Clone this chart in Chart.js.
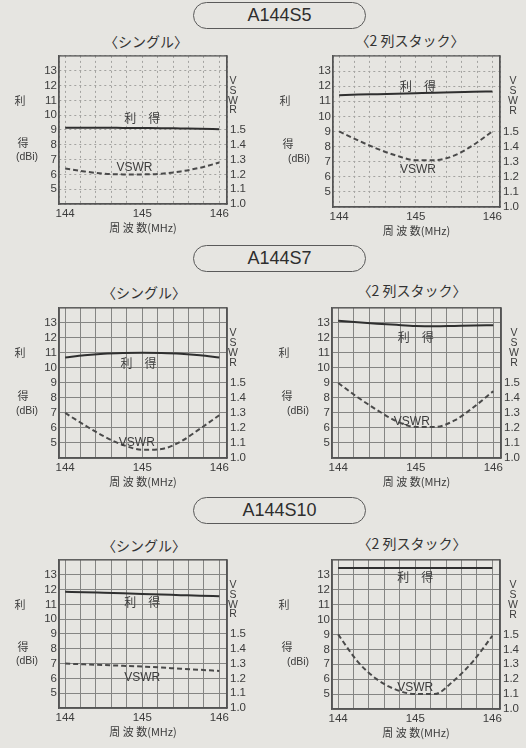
<!DOCTYPE html>
<html>
<head>
<meta charset="utf-8">
<script src="https://cdn.jsdelivr.net/npm/chart.js@4.4.1/dist/chart.umd.min.js"></script>
<style>
  body { margin: 0; background: #e6e5e1; }
  #page { position: relative; width: 526px; height: 748px; overflow: hidden; }
  .pill {
    position: absolute; left: 193px; width: 173px; height: 27px; box-sizing: border-box;
    border: 1.5px solid #5a5a5a; border-radius: 14px;
    font: 18px "Liberation Sans", Arial, sans-serif; color: #2e2e2e;
    text-align: center; line-height: 24px;
  }
  .sub {
    position: absolute; transform: translate(-50%, -50%); white-space: nowrap;
    font: 14px "Noto Sans CJK JP", sans-serif; color: #333;
  }
  canvas { position: absolute; }
</style>
</head>
<body>
<div id="page">
  <div class="pill" style="top:2px">A144S5</div>
  <div class="pill" style="top:245px">A144S7</div>
  <div class="pill" style="top:497px">A144S10</div>

  <div class="sub" style="left:146px;top:41px">〈シングル〉</div>
  <div class="sub" style="left:410px;top:40px">〈2 列スタック〉</div>
  <div class="sub" style="left:144px;top:292px">〈シングル〉</div>
  <div class="sub" style="left:412px;top:290px">〈2 列スタック〉</div>
  <div class="sub" style="left:144px;top:545px">〈シングル〉</div>
  <div class="sub" style="left:412px;top:543px">〈2 列スタック〉</div>

  <canvas id="c1"></canvas>
  <canvas id="c2"></canvas>
  <canvas id="c3"></canvas>
  <canvas id="c4"></canvas>
  <canvas id="c5"></canvas>
  <canvas id="c6"></canvas>
</div>

<script>
// frequency points (MHz) the curves were read at
const freq = [144, 144.25, 144.5, 144.75, 145, 145.25, 145.5, 145.75, 146];
const freqGrid = [144, 144.2, 144.4, 144.6, 144.8, 145, 145.2, 145.4, 145.6, 145.8, 146];
const freqLabels = [144, 145, 146];
const gainTicks = [5, 6, 7, 8, 9, 10, 11, 12, 13];
const vswrTicks = [1.0, 1.1, 1.2, 1.3, 1.4, 1.5];

// A144S5
const s5SingleGain = [9.15, 9.15, 9.15, 9.14, 9.13, 9.12, 9.1, 9.08, 9.05];
const s5SingleVswr = [1.24, 1.22, 1.205, 1.2, 1.2, 1.205, 1.22, 1.245, 1.28];
const s5StackGain = [11.4, 11.44, 11.47, 11.5, 11.53, 11.56, 11.6, 11.62, 11.65];
const s5StackVswr = [1.5, 1.44, 1.385, 1.34, 1.31, 1.31, 1.34, 1.41, 1.5];
// A144S7
const s7SingleGain = [10.7, 10.85, 10.95, 11.0, 11.02, 11.0, 10.95, 10.85, 10.7];
const s7SingleVswr = [1.3, 1.22, 1.145, 1.087, 1.055, 1.06, 1.11, 1.195, 1.285];
const s7StackGain = [13.15, 13.05, 12.95, 12.87, 12.8, 12.78, 12.8, 12.82, 12.85];
const s7StackVswr = [1.5, 1.405, 1.32, 1.245, 1.207, 1.207, 1.25, 1.34, 1.445];
// A144S10
const s10SingleGain = [11.85, 11.82, 11.78, 11.74, 11.7, 11.66, 11.62, 11.58, 11.55];
const s10SingleVswr = [1.3, 1.295, 1.29, 1.285, 1.28, 1.273, 1.265, 1.258, 1.25];
const s10StackGain = [13.45, 13.45, 13.45, 13.45, 13.45, 13.45, 13.45, 13.45, 13.45];
const s10StackVswr = [1.5, 1.32, 1.2, 1.13, 1.1, 1.1, 1.19, 1.32, 1.49];

const INK = '#2f2f2f';
const TXT = '#3c3c3c';
const FRAME = '#555';
const JP = '"Noto Sans CJK JP", sans-serif';
const tickFont = { family: '"Liberation Sans", Arial, sans-serif', size: 11.5 };

// solid outer frame of each plot
const frame = {
  id: 'frame',
  beforeDatasetsDraw(chart) {
    const { ctx, chartArea: a } = chart;
    ctx.save();
    ctx.strokeStyle = FRAME;
    ctx.lineWidth = 1.3;
    ctx.strokeRect(a.left, a.top, a.right - a.left, a.bottom - a.top);
    ctx.restore();
  }
};

// text round the plot: side labels, VSWR letters, in-plot names, x title
const pageText = {
  id: 'pageText',
  afterDraw(chart, args, o) {
    const { ctx, chartArea: a, scales: { x, y } } = chart;
    ctx.save();
    ctx.fillStyle = TXT;
    ctx.textAlign = 'center';
    ctx.textBaseline = 'middle';
    ctx.font = '11px ' + JP;
    ctx.fillText('利', a.left - o.side[0], y.getPixelForValue(11));
    ctx.fillText('得', a.left - o.side[1], y.getPixelForValue(8.15));
    ctx.font = '10.5px "Liberation Sans", Arial, sans-serif';
    ctx.fillText('(dBi)', a.left - o.side[2], y.getPixelForValue(7.15));
    ['V', 'S', 'W', 'R'].forEach((c, i) => {
      ctx.fillText(c, a.right + o.side[3], y.getPixelForValue(12.3 - i * 0.66));
    });
    ctx.font = '12px ' + JP;
    ctx.fillText('利　得', x.getPixelForValue(o.gainAt[0]), y.getPixelForValue(o.gainAt[1]));
    ctx.font = '12px "Liberation Sans", Arial, sans-serif';
    ctx.fillText('VSWR', x.getPixelForValue(o.vswrAt[0]), y.getPixelForValue(o.vswrAt[1]));
    ctx.font = '11px ' + JP;
    ctx.fillText('周 波 数(MHz)', (a.left + a.right) / 2, a.bottom + 24);
    ctx.restore();
  }
};

function makeChart(id, gain, vswr, box, look) {
  const cv = document.getElementById(id);
  cv.width = box.w; cv.height = box.h;
  cv.style.left = box.l + 'px'; cv.style.top = box.t + 'px';
  cv.style.width = box.w + 'px'; cv.style.height = box.h + 'px';

  // the top row is printed with a faint dotted mesh, the others with solid lines
  const gridCol = look.dotted ? '#a3a3a0' : '#858583';
  const dash = look.dotted ? [2, 3] : [];

  new Chart(cv, {
    type: 'line',
    data: {
      datasets: [
        {
          data: freq.map((f, i) => ({ x: f, y: gain[i] })),
          yAxisID: 'y',
          borderColor: INK, borderWidth: 2, pointRadius: 0,
          cubicInterpolationMode: 'monotone'
        },
        {
          data: freq.map((f, i) => ({ x: f, y: vswr[i] })),
          yAxisID: 'y2',
          borderColor: '#4a4a4a', borderWidth: 2, borderDash: [5, 3], pointRadius: 0,
          cubicInterpolationMode: 'monotone'
        }
      ]
    },
    options: {
      responsive: false,
      animation: false,
      events: [],
      layout: { padding: { top: box.pt, left: 0, right: 0, bottom: 0 } },
      plugins: {
        legend: { display: false },
        tooltip: { enabled: false },
        pageText: look.text
      },
      scales: {
        x: {
          type: 'linear', min: 143.92, max: 146.1,
          afterBuildTicks: s => { s.ticks = [143.92, ...freqGrid, 146.1].map(v => ({ value: v })); },
          afterFit: s => { s.height = box.xh; },
          ticks: {
            autoSkip: false, maxRotation: 0, padding: 3, color: TXT, font: tickFont,
            callback: v => freqLabels.includes(v) ? String(v) : ''
          },
          grid: { drawTicks: false, color: gridCol, lineWidth: 1 },
          border: { display: true, color: FRAME, width: 1.3, dash: dash }
        },
        y: {
          position: 'left', min: 4, max: 14,
          afterBuildTicks: s => { s.ticks = [4, ...gainTicks, 14].map(v => ({ value: v })); },
          afterFit: s => { s.width = box.yl; },
          ticks: {
            autoSkip: false, padding: 2, color: TXT, font: tickFont,
            callback: v => gainTicks.includes(v) ? String(v) : ''
          },
          grid: { drawTicks: false, color: gridCol, lineWidth: 1 },
          border: { display: true, color: FRAME, width: 1.3, dash: dash }
        },
        y2: {
          position: 'right', min: 1.0, max: 2.0,
          afterBuildTicks: s => { s.ticks = vswrTicks.map(v => ({ value: v })); },
          afterFit: s => { s.width = box.yr; },
          ticks: {
            autoSkip: false, padding: 3, color: TXT, font: tickFont,
            callback: v => v.toFixed(1)
          },
          grid: { display: false, drawTicks: false },
          border: { display: true, color: FRAME, width: 1.3 }
        }
      }
    },
    plugins: [frame, pageText]
  });
}

// canvas boxes: page position, size and the plot frame inside them
function box(l, t, w, h, plot) {
  return { l, t, w, h, pt: plot[1] - t, yl: plot[0] - l, yr: l + w - plot[2], xh: t + h - plot[3] };
}
const leftSide = [39, 36, 32, 6];
const rightSide = [48, 45, 34, 13];

makeChart('c1', s5SingleGain, s5SingleVswr, box(0, 46, 263, 194, [59, 54, 227, 204]),
  { dotted: true, text: { side: leftSide, gainAt: [145.0, 9.8], vswrAt: [144.9, 6.45] } });
makeChart('c2', s5StackGain, s5StackVswr, box(263, 46, 263, 194, [333, 55, 500, 207]),
  { dotted: true, text: { side: rightSide, gainAt: [145.03, 12.0], vswrAt: [145.03, 6.45] } });
makeChart('c3', s7SingleGain, s7SingleVswr, box(0, 298, 263, 192, [59, 306, 227, 458]),
  { dotted: false, text: { side: leftSide, gainAt: [144.95, 10.3], vswrAt: [144.93, 5.05] } });
makeChart('c4', s7StackGain, s7StackVswr, box(263, 298, 263, 192, [332, 306, 501, 458]),
  { dotted: false, text: { side: rightSide, gainAt: [145.0, 12.0], vswrAt: [144.95, 6.4] } });
makeChart('c5', s10SingleGain, s10SingleVswr, box(0, 550, 263, 198, [59, 556, 227, 708]),
  { dotted: false, text: { side: leftSide, gainAt: [145.0, 11.1], vswrAt: [145.0, 6.05] } });
makeChart('c6', s10StackGain, s10StackVswr, box(263, 550, 263, 198, [332, 558, 500, 709]),
  { dotted: false, text: { side: rightSide, gainAt: [145.0, 12.8], vswrAt: [145.0, 5.45] } });
</script>
</body>
</html>
